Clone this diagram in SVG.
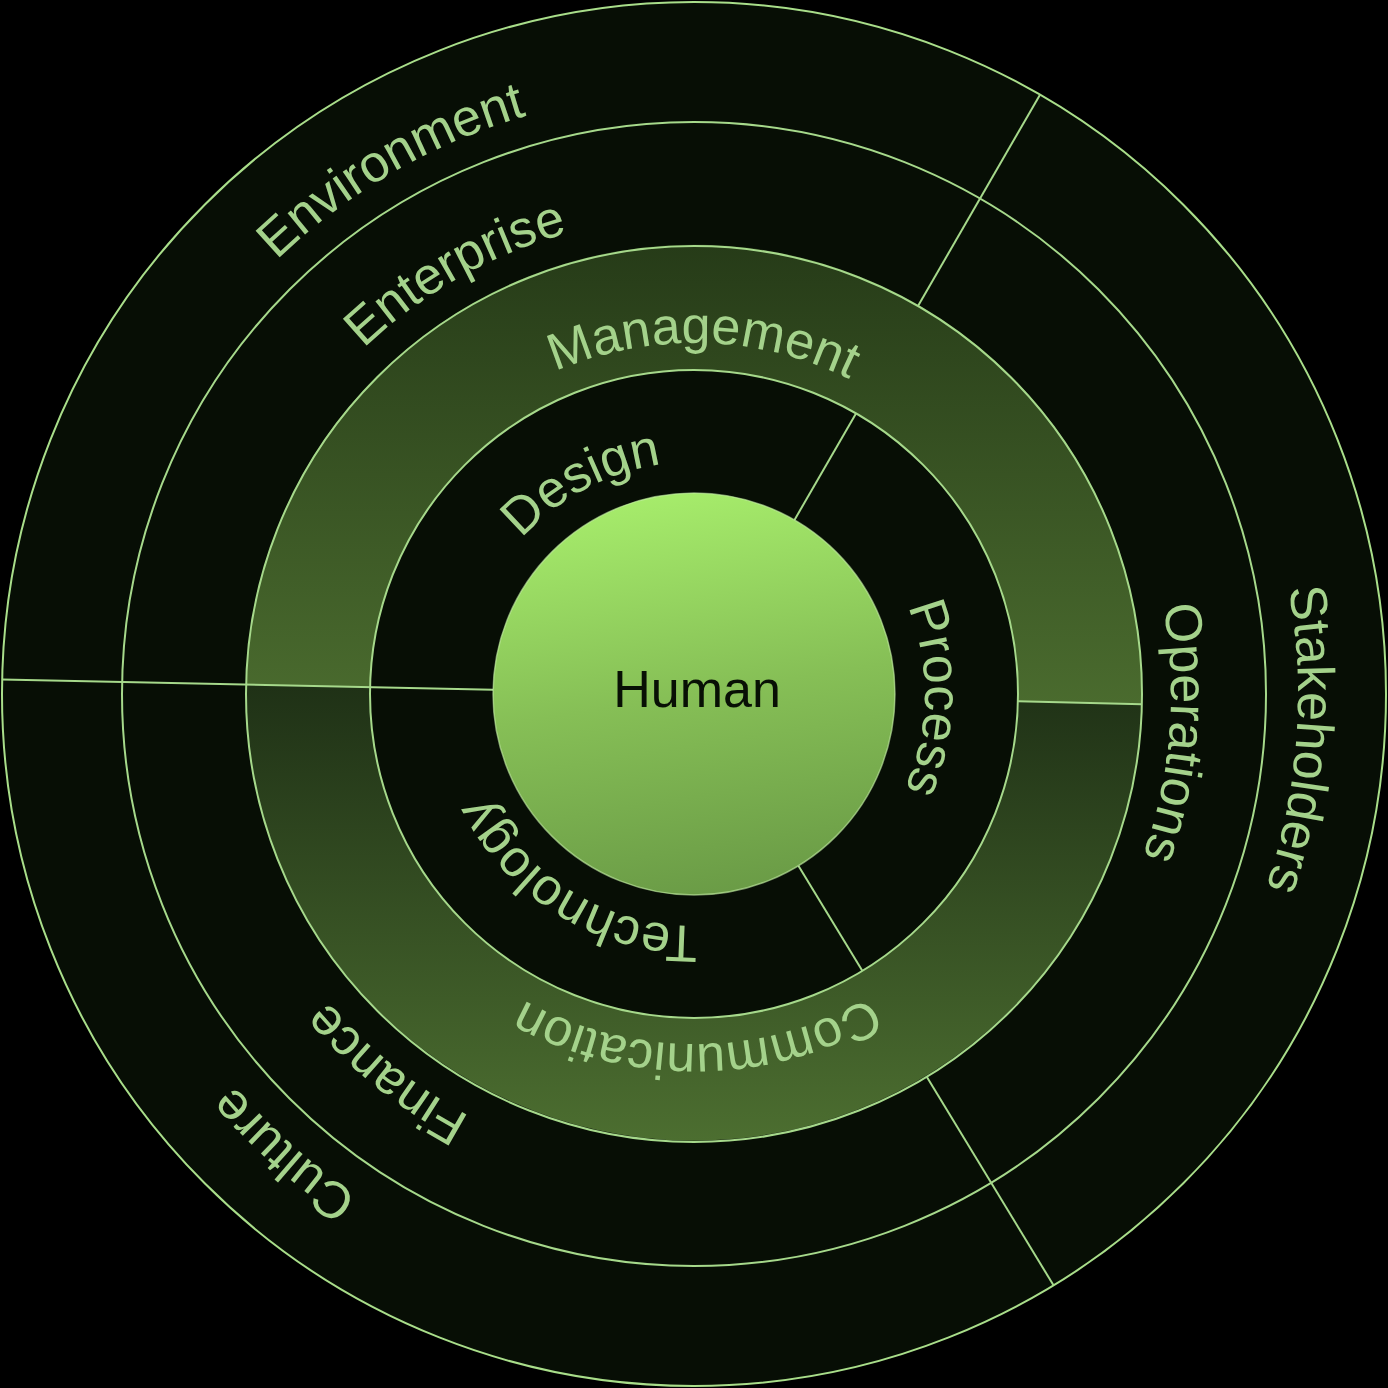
<svg xmlns="http://www.w3.org/2000/svg" width="1388" height="1388" viewBox="0 0 1388 1388">
  <style>
    .ring { fill: none; stroke: #a6d98b; stroke-width: 2; }
    .div { stroke: #a6d98b; stroke-width: 2; fill: none; }
    .lbl { font-family: "Liberation Sans", Arial, sans-serif; font-size: 52px; fill: #a4d28b; }
    .core { font-family: "Liberation Sans", Arial, sans-serif; font-size: 52px; fill: #081005; }
  </style>
  <defs>
    <linearGradient id="gMgmt" x1="0" y1="0" x2="0" y2="1">
      <stop offset="0" stop-color="#263b18"/>
      <stop offset="1" stop-color="#4a6b2e"/>
    </linearGradient>
    <linearGradient id="gComm" x1="0" y1="0" x2="0" y2="1">
      <stop offset="0" stop-color="#1f3116"/>
      <stop offset="1" stop-color="#4c6e30"/>
    </linearGradient>
    <linearGradient id="gHuman" x1="0.42" y1="0" x2="0.58" y2="1">
      <stop offset="0" stop-color="#a6ec6b"/>
      <stop offset="0.5" stop-color="#86bf56"/>
      <stop offset="1" stop-color="#6a9b46"/>
    </linearGradient>
    <path id="pEnv" d="M232.84,1080.96 A602,602 0 1 1 1259.69,488.10"/>
    <path id="pEnt" d="M325.17,998.05 A478,478 0 1 1 1144.58,534.44"/>
    <path id="pMgmt" d="M346.85,745.88 A351,351 0 1 1 1037.95,763.98"/>
    <path id="pDes" d="M511.18,836.83 A232,232 0 1 1 914.65,622.31"/>
    <path id="pPro" d="M657.86,465.84 A231,231 0 1 1 649.92,920.76"/>
    <path id="pOps" d="M649.11,219.12 A477,477 0 1 1 573.76,1155.60"/>
    <path id="pStk" d="M634.01,92.98 A604,604 0 1 1 544.81,1279.29"/>
    <path id="pCom" d="M1038.14,630.22 A350,350 0 1 1 348.80,636.23"/>
    <path id="pTec" d="M909.86,779.03 A232,232 0 1 1 520.24,540.27"/>
    <path id="pFin" d="M1112.07,925.74 A478,478 0 1 1 380.40,333.25"/>
    <path id="pCul" d="M1207.89,1011.38 A604,604 0 1 1 319.67,219.99"/>
  </defs>

  <rect x="0" y="0" width="1388" height="1388" fill="#000000"/>

  <g id="base">
    <circle cx="694" cy="694" r="692" fill="#070e05" stroke="#a9de8a" stroke-width="2"/>
  </g>

  <g id="management">
    <path d="M246.10,684.62 A448,448 0 1 1 1141.88,704.16 L1017.92,701.35 A324,324 0 1 0 370.07,687.22 Z" fill="url(#gMgmt)"/>
  </g>
  <g id="communication">
    <path d="M1141.88,704.16 A448,448 0 0 1 246.10,684.62 L370.07,687.22 A324,324 0 0 0 1017.92,701.35 Z" fill="url(#gComm)"/>
  </g>

  <g id="connectors">
    <circle class="ring" cx="694" cy="694" r="324"/>
    <circle class="ring" cx="694" cy="694" r="448"/>
    <circle class="ring" cx="694" cy="694" r="572"/>
    <line class="div" x1="2.15" y1="679.51" x2="493.04" y2="689.79"/>
    <line class="div" x1="1017.92" y1="701.35" x2="1141.88" y2="704.16"/>
    <line class="div" x1="918" y1="306.02" x2="1040" y2="94.71"/>
    <line class="div" x1="794.5" y1="519.93" x2="856" y2="413.41"/>
    <line class="div" x1="926.75" y1="1076.80" x2="1053.51" y2="1285.29"/>
    <line class="div" x1="798.42" y1="865.75" x2="862.32" y2="970.85"/>
  </g>

  <g id="human">
    <circle cx="694" cy="694" r="201" fill="url(#gHuman)" stroke="#c4eea6" stroke-opacity="0.6" stroke-width="1.5"/>
    <text class="core" x="697" y="707" text-anchor="middle">Human</text>
  </g>

  <g id="environment"><text class="lbl"><textPath href="#pEnv" startOffset="50%" text-anchor="middle">Environment</textPath></text></g>
  <g id="enterprise"><text class="lbl"><textPath href="#pEnt" startOffset="50%" text-anchor="middle">Enterprise</textPath></text></g>
  <g id="management-label"><text class="lbl"><textPath href="#pMgmt" startOffset="50%" text-anchor="middle">Management</textPath></text></g>
  <g id="design"><text class="lbl"><textPath href="#pDes" startOffset="50%" text-anchor="middle">Design</textPath></text></g>
  <g id="process"><text class="lbl"><textPath href="#pPro" startOffset="50%" text-anchor="middle">Process</textPath></text></g>
  <g id="operations"><text class="lbl"><textPath href="#pOps" startOffset="50%" text-anchor="middle">Operations</textPath></text></g>
  <g id="stakeholders"><text class="lbl"><textPath href="#pStk" startOffset="50%" text-anchor="middle">Stakeholders</textPath></text></g>
  <g id="communication-label"><text class="lbl"><textPath href="#pCom" startOffset="50%" text-anchor="middle">Communication</textPath></text></g>
  <g id="technology"><text class="lbl"><textPath href="#pTec" startOffset="50%" text-anchor="middle">Technology</textPath></text></g>
  <g id="finance"><text class="lbl"><textPath href="#pFin" startOffset="50%" text-anchor="middle">Finance</textPath></text></g>
  <g id="culture"><text class="lbl"><textPath href="#pCul" startOffset="50%" text-anchor="middle">Culture</textPath></text></g>
</svg>
